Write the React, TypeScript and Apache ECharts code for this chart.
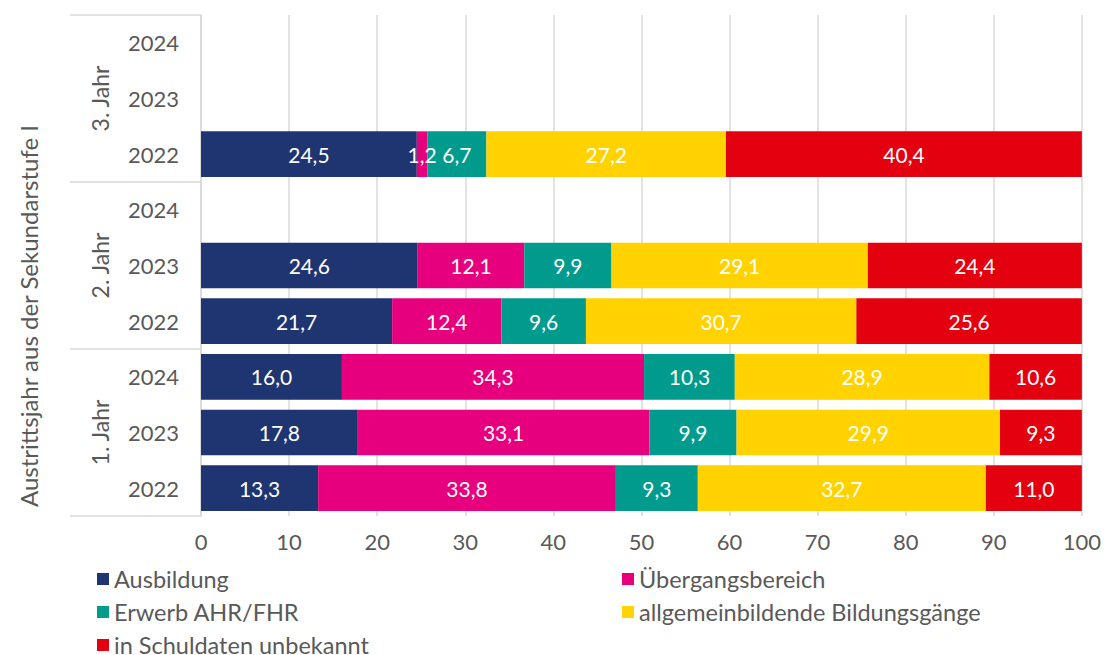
import React, { useEffect, useRef } from "react";
import * as echarts from "echarts";

const years = ["2022", "2023", "2024", "2022", "2023", "2024", "2022", "2023", "2024"];
const groups = ["1. Jahr", "2. Jahr", "3. Jahr"];
const axisTitle = "Austrittsjahr aus der Sekundarstufe I";

const ausbildung = [13.3, 17.8, 16.0, 21.7, 24.6, null, 24.5, null, null];
const uebergang = [33.8, 33.1, 34.3, 12.4, 12.1, null, 1.2, null, null];
const erwerb = [9.3, 9.9, 10.3, 9.6, 9.9, null, 6.7, null, null];
const allgemein = [32.7, 29.9, 28.9, 30.7, 29.1, null, 27.2, null, null];
const unbekannt = [11.0, 9.3, 10.6, 25.6, 24.4, null, 40.4, null, null];

const seriesNames = [
  "Ausbildung",
  "Übergangsbereich",
  "Erwerb AHR/FHR",
  "allgemeinbildende Bildungsgänge",
  "in Schuldaten unbekannt",
];
const seriesData = [ausbildung, uebergang, erwerb, allgemein, unbekannt];
const colors = ["#1f3571", "#e6007e", "#009b8c", "#ffd200", "#e3000f"];

const FONT = "Lato";
const GRID_LEFT = 201;
const AXIS2_X = 70;
const TEXT_COLOR = "#595959";

const legendText = { color: TEXT_COLOR, fontSize: 23.5, fontFamily: FONT, lineHeight: 20 };

export default function App() {
  const ref = useRef<HTMLDivElement>(null);
  useEffect(() => {
    if (!ref.current) return;
    const chart = echarts.init(ref.current, undefined, { renderer: "svg" });
    chart.setOption({
      animation: false,
      color: colors,
      textStyle: { fontFamily: FONT },
      grid: { left: GRID_LEFT, right: 19, top: 15, bottom: 139, containLabel: false },
      xAxis: {
        type: "value",
        min: 0,
        max: 100,
        interval: 10,
        axisLine: { show: false },
        axisTick: { show: false },
        splitLine: { lineStyle: { color: "#d9d9d9", width: 1.5 } },
        axisLabel: { color: TEXT_COLOR, fontSize: 22, fontFamily: FONT, margin: 14 },
      },
      yAxis: [
        {
          type: "category",
          data: years,
          axisLine: { show: true, lineStyle: { color: "#d9d9d9", width: 1.5 } },
          axisTick: { show: false },
          axisLabel: { color: TEXT_COLOR, fontSize: 22, fontFamily: FONT, margin: 22 },
        },
        {
          type: "category",
          data: groups,
          position: "left",
          offset: GRID_LEFT - AXIS2_X,
          axisLine: { show: false },
          axisTick: {
            show: true,
            inside: true,
            length: GRID_LEFT - AXIS2_X,
            lineStyle: { color: "#d9d9d9", width: 1.5 },
          },
          axisLabel: {
            inside: true,
            rotate: 90,
            margin: 18,
            color: TEXT_COLOR,
            fontSize: 23,
            fontFamily: FONT,
          },
        },
      ],
      graphic: [
        {
          type: "text",
          x: 28,
          y: 316,
          rotation: Math.PI / 2,
          style: {
            text: axisTitle,
            fill: TEXT_COLOR,
            fontSize: 24,
            fontFamily: FONT,
            align: "center",
            verticalAlign: "middle",
          },
        },
      ],
      legend: [
        {
          left: 97,
          top: 567,
          height: 100,
          padding: 0,
          orient: "vertical",
          icon: "rect",
          itemWidth: 12,
          itemHeight: 12,
          itemGap: 9,
          selectedMode: false,
          data: [seriesNames[0], seriesNames[2], seriesNames[4]],
          textStyle: legendText,
        },
        {
          left: 622,
          top: 567,
          height: 100,
          padding: 0,
          orient: "vertical",
          icon: "rect",
          itemWidth: 12,
          itemHeight: 12,
          itemGap: 9,
          selectedMode: false,
          data: [seriesNames[1], seriesNames[3]],
          textStyle: legendText,
        },
      ],
      series: seriesNames.map((name, i) => ({
        name,
        type: "bar",
        stack: "total",
        data: seriesData[i],
        barCategoryGap: "18%",
        itemStyle: { color: colors[i] },
        label: {
          show: true,
          position: "inside",
          color: "#ffffff",
          fontSize: 21,
          fontFamily: FONT,
          formatter: (p: any) =>
            p.value == null ? "" : Number(p.value).toFixed(1).replace(".", ","),
        },
      })),
    });
    return () => chart.dispose();
  }, []);
  return (
    <div
      ref={ref}
      style={{ position: "fixed", left: 0, top: 0, width: 1104, height: 655, background: "#ffffff" }}
    />
  );
}
